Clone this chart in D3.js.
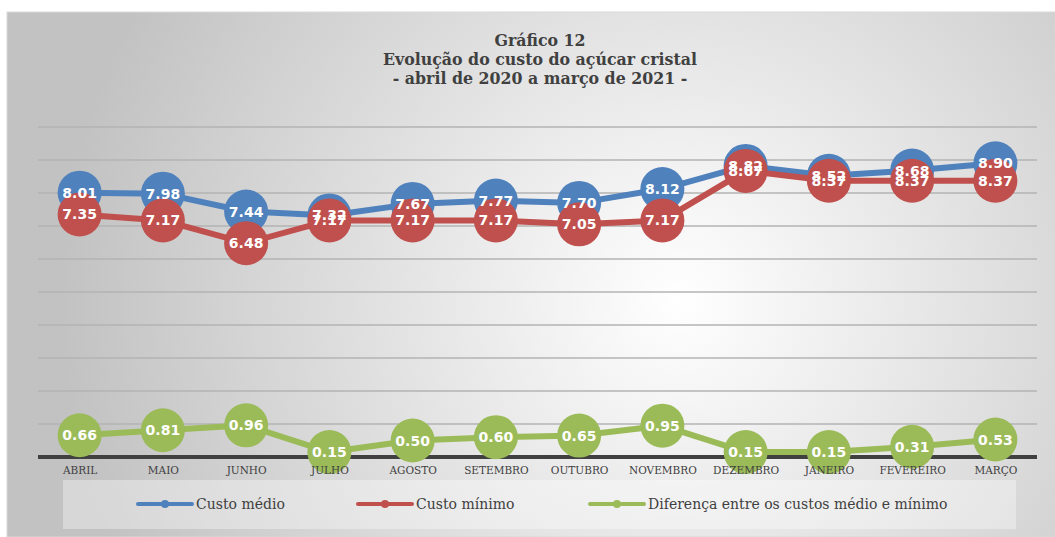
<!DOCTYPE html>
<html>
<head>
<meta charset="utf-8">
<script src="https://cdn.jsdelivr.net/npm/d3@7"></script>
<style>
  body { margin: 0; background: #fff; }
</style>
</head>
<body>
<div class="chart"></div>
<script>
const months = ['ABRIL', 'MAIO', 'JUNHO', 'JULHO', 'AGOSTO', 'SETEMBRO', 'OUTUBRO',
                'NOVEMBRO', 'DEZEMBRO', 'JANEIRO', 'FEVEREIRO', 'MARÇO']
const custoMedio = [8.01, 7.98, 7.44, 7.32, 7.67, 7.77, 7.70, 8.12, 8.82, 8.52, 8.68, 8.90]
const custoMinimo = [7.35, 7.17, 6.48, 7.17, 7.17, 7.17, 7.05, 7.17, 8.67, 8.37, 8.37, 8.37]
const diferenca = [0.66, 0.81, 0.96, 0.15, 0.50, 0.60, 0.65, 0.95, 0.15, 0.15, 0.31, 0.53]
const seriesNames = ['Custo médio', 'Custo mínimo', 'Diferença entre os custos médio e mínimo']
const seriesColors = ['#4f81bd', '#c0504d', '#9bbb59']
const titleLines = ['Gráfico 12', 'Evolução do custo do açúcar cristal', '- abril de 2020 a março de 2021 -']

const W = 1055, H = 537
const plot = {left: 38, right: 1037, top: 127, bottom: 457}

const svg = d3.select('.chart').append('svg')
    .attr('width', W).attr('height', H)

const defs = svg.append('defs')
const grad = defs.append('radialGradient')
    .attr('id', 'bg')
    .attr('gradientUnits', 'userSpaceOnUse')
    .attr('cx', 680).attr('cy', 300).attr('r', 620)
grad.append('stop').attr('offset', 0).attr('stop-color', '#ffffff')
grad.append('stop').attr('offset', 1).attr('stop-color', '#c2c2c2')

// chart area
svg.append('rect')
    .attr('x', 7).attr('y', 12)
    .attr('width', W - 7).attr('height', H - 12)
    .attr('fill', 'url(#bg)')
    .attr('stroke', '#d9d9d9').attr('stroke-width', 1)

// title
svg.append('text')
    .attr('text-anchor', 'middle')
    .style('font-family', '"DejaVu Serif", serif')
    .style('font-weight', 'bold')
    .style('font-size', '15.8px')
    .attr('fill', '#404040')
    .selectAll('tspan').data(titleLines).join('tspan')
        .attr('x', 540)
        .attr('y', (d, i) => 46 + i * 19)
        .text(d => d)

const x = d3.scalePoint().domain(months).range([plot.left, plot.right]).padding(0.5)
const y = d3.scaleLinear().domain([0, 10]).range([plot.bottom, plot.top])

// gridlines
svg.append('g')
    .selectAll('line').data(y.ticks(10).filter(d => d > 0)).join('line')
        .attr('x1', plot.left).attr('x2', plot.right)
        .attr('y1', d => y(d)).attr('y2', d => y(d))
        .attr('stroke', '#b3b3b3').attr('stroke-width', 1.5)

// axis line (under the markers)
svg.append('line')
    .attr('x1', plot.left).attr('x2', plot.right)
    .attr('y1', plot.bottom).attr('y2', plot.bottom)
    .attr('stroke', '#404040').attr('stroke-width', 4)

const allSeries = [custoMedio, custoMinimo, diferenca]
const line = d3.line().x((d, i) => x(months[i])).y(d => y(d))

allSeries.forEach((vals, s) => {
    const g = svg.append('g')
    g.append('path')
        .attr('d', line(vals))
        .attr('fill', 'none')
        .attr('stroke', seriesColors[s])
        .attr('stroke-width', 6)
        .attr('stroke-linejoin', 'round')
    g.selectAll('circle').data(vals).join('circle')
        .attr('cx', (d, i) => x(months[i]))
        .attr('cy', d => y(d))
        .attr('r', 22)
        .attr('fill', seriesColors[s])
})

allSeries.forEach(vals => {
    svg.append('g')
        .selectAll('text').data(vals).join('text')
            .attr('x', (d, i) => x(months[i]))
            .attr('y', d => y(d))
            .attr('dy', '0.36em')
            .attr('text-anchor', 'middle')
            .style('font-family', '"DejaVu Sans", sans-serif')
            .style('font-weight', 'bold')
            .style('font-size', '14px')
            .attr('fill', '#fff')
            .text(d => d.toFixed(2))
})

// x axis labels (on top of the markers)
const xAxis = svg.append('g')
    .attr('transform', `translate(0, ${plot.bottom})`)
    .call(d3.axisBottom(x).tickSize(0).tickPadding(10))
xAxis.select('.domain').remove()
xAxis.selectAll('text')
    .style('font-family', '"DejaVu Serif", serif')
    .style('font-size', '10.5px')
    .attr('fill', '#404040')

// legend
svg.append('rect')
    .attr('x', 63).attr('y', 480)
    .attr('width', 953).attr('height', 49)
    .attr('fill', '#fff').attr('fill-opacity', 0.35)

const legendX = [138, 358, 590]
const legend = svg.append('g')
    .selectAll('g').data(seriesNames).join('g')
        .attr('transform', (d, i) => `translate(${legendX[i]}, 504)`)
legend.append('line')
    .attr('x1', 0).attr('x2', 54)
    .attr('stroke', (d, i) => seriesColors[i])
    .attr('stroke-width', 4).attr('stroke-linecap', 'round')
legend.append('circle')
    .attr('cx', 27).attr('r', 4)
    .attr('fill', (d, i) => seriesColors[i])
legend.append('text')
    .attr('x', 58).attr('dy', '0.35em')
    .style('font-family', '"DejaVu Serif", serif')
    .style('font-size', '14px')
    .attr('fill', '#404040')
    .text(d => d)
</script>
</body>
</html>
